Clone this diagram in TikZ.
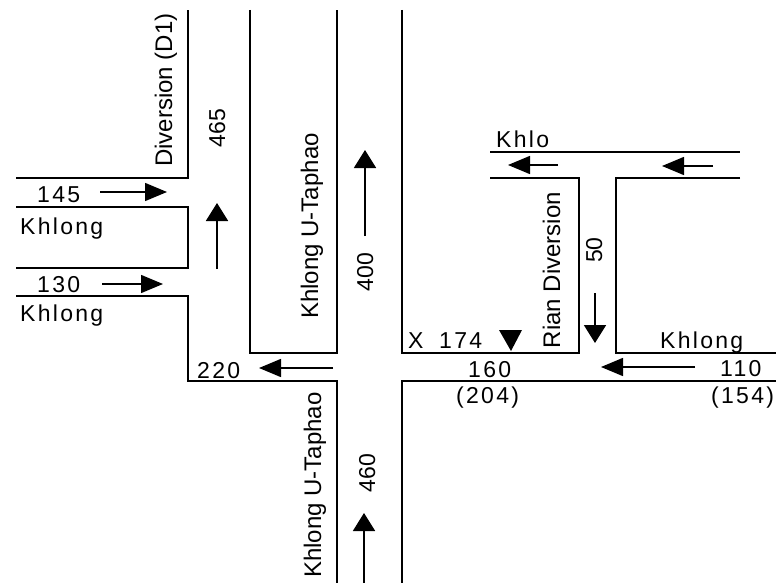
\documentclass[tikz,border=0pt]{standalone}
\usepackage{fontspec}
\setmainfont{Liberation Sans}
\newfontfamily\spacedfont[LetterSpace=10]{Liberation Sans}
\usetikzlibrary{arrows.meta}
\tikzset{
  road/.style={line width=2.8pt,line cap=butt,line join=miter},
  hflow/.style={line width=1.5pt,-{Triangle[length=22pt,width=18pt]}},
  vflow/.style={line width=1.8pt,-{Triangle[length=18pt,width=22pt]}},
  num/.style={inner sep=0pt,anchor=base west,font=\spacedfont\fontsize{23}{23}\selectfont},
  vlab/.style={inner sep=0pt,anchor=base,rotate=90,font=\fontsize{24}{24}\selectfont},
  vnum/.style={inner sep=0pt,anchor=base,rotate=90,font=\fontsize{23}{23}\selectfont},
}
\begin{document}
\begin{tikzpicture}[x=1pt,y=-1pt]
\useasboundingbox (0,0) rectangle (776,583);
% roads
\draw[road] (16,178) -- (188,178) -- (188,10);
\draw[road] (16,207) -- (188,207) -- (188,268) -- (16,268);
\draw[road] (16,296) -- (188,296) -- (188,381) -- (337,381) -- (337,583);
\draw[road] (250,10) -- (250,353) -- (337,353) -- (337,10);
\draw[road] (402,10) -- (402,353) -- (579,353) -- (579,178) -- (490,178);
\draw[road] (490,152) -- (740,152);
\draw[road] (740,178) -- (616,178) -- (616,353) -- (776,353);
\draw[road] (402,583) -- (402,381) -- (776,381);
% flow arrows
\coordinate (a1s) at (100,192); \coordinate (a1e) at (167,192);
\coordinate (a3s) at (102,284); \coordinate (a3e) at (163,284);
\coordinate (a4s) at (333,368); \coordinate (a4e) at (259,368);
\coordinate (a7s) at (558,165); \coordinate (a7e) at (508,165);
\coordinate (a8s) at (713,166); \coordinate (a8e) at (662,166);
\coordinate (a10s) at (695,367); \coordinate (a10e) at (601,367);
\foreach \i in {1,3,4,7,8,10} \draw[hflow] (a\i s) -- (a\i e);
\coordinate (a2s) at (217,269); \coordinate (a2e) at (217,203);
\coordinate (a5s) at (365,236); \coordinate (a5e) at (365,150);
\coordinate (a6s) at (364,583); \coordinate (a6e) at (364,513);
\coordinate (a9s) at (595,293); \coordinate (a9e) at (595,343);
\foreach \i in {2,5,6,9} \draw[vflow] (a\i s) -- (a\i e);
\fill (499,330) -- (522,330) -- (511,351) -- cycle;
% labels
\node[vlab] (d1) at (172,90) {Diversion (D1)};
\node[vnum] (n465) at (225,128) {465};
\node[num] (n145) at (37,202) {145};
\node[num] (k1) at (20,234) {Khlong};
\node[num] (n130) at (37,292) {130};
\node[num] (k2) at (20,321) {Khlong};
\node[num] (n220) at (197,378) {220};
\node[vlab] (ku1) at (318,226) {Khlong U-Taphao};
\node[vnum] (n400) at (373,272) {400};
\node[vlab] (ku2) at (321,485) {Khlong U-Taphao};
\node[vnum] (n460) at (375,473) {460};
\node[num] (khlo) at (496,147) {Khlo};
\node[vlab] (rian) at (560,270) {Rian Diversion};
\node[vnum] (n50) at (602,250) {50};
\node[num] (x174) at (408,348) {X\hspace{7pt} 174};
\node[num] (k3) at (660,348) {Khlong};
\node[num] (n160) at (468,377) {160};
\node[num] (n204) at (456,403) {(204)};
\node[num] (n110) at (720,376) {110};
\node[num] (n154) at (711,403) {(154)};
\end{tikzpicture}
\end{document}
